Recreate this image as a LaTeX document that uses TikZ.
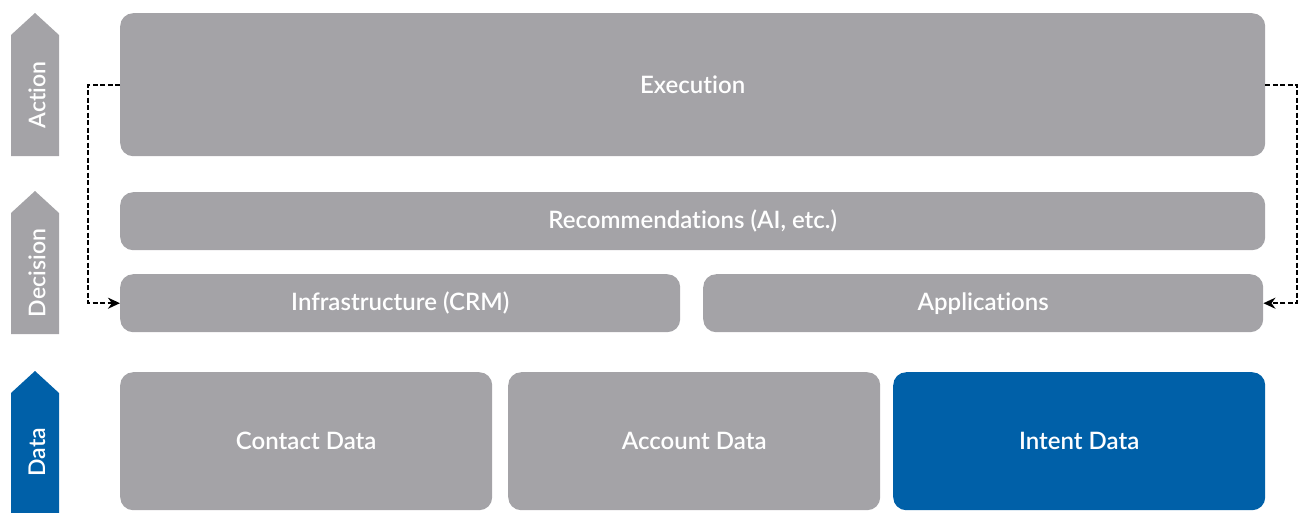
\documentclass[tikz,border=0pt]{standalone}
\usepackage{fontspec}
\setmainfont{Lato Semibold}[Ligatures=NoCommon]
\usetikzlibrary{arrows.meta}

\definecolor{layergray}{HTML}{A4A3A7}
\definecolor{layerblue}{HTML}{0060A8}

\begin{document}
\begin{tikzpicture}[
    x=1pt, y=-1pt,
    base/.style = {rectangle, rounded corners=13pt, fill=layergray,
        text=white, inner sep=0pt, anchor=north west,
        font=\fontsize{24}{28}\selectfont},
    layer/.style = {base, minimum height=58pt},
    datablock/.style = {base, minimum width=372pt, minimum height=138pt},
    tag/.style = {text=white, rotate=90, font=\fontsize{23}{27}\selectfont},
    link/.style = {line width=1.9pt, dash pattern=on 5pt off 2.5pt,
        -{Stealth[length=12pt, width=11pt]}}
]
  \useasboundingbox (0,0) rectangle (1305,512);

  % side arrows
  \fill[layergray] (11,156) -- (11,35) -- (35,13) -- (59,35) -- (59,156) -- cycle;
  \fill[layergray] (11,334) -- (11,213) -- (35,191) -- (59,213) -- (59,334) -- cycle;
  \fill[layerblue] (11,520) -- (11,393) -- (35,371) -- (59,393) -- (59,520) -- cycle;
  \node (action)   [tag] at (37,95)  {Action};
  \node (decision) [tag] at (37,273) {Decision};
  \node (data)     [tag] at (37,452) {Data};

  % layers
  \node (exec)  [base, minimum width=1145pt, minimum height=143pt] at (120,13) {Execution};
  \node (recs)  [layer, minimum width=1145pt] at (120,192) {Recommendations (AI, etc.)};
  \node (infra) [layer, minimum width=560pt] at (120,274) {Infrastructure (CRM)};
  \node (apps)  [layer, minimum width=560pt] at (703,274) {Applications};

  \node (contact) [datablock] at (120,372) {Contact Data};
  \node (account) [datablock] at (508,372) {Account Data};
  \node (intent)  [datablock, fill=layerblue] at (893,372) {Intent Data};

  \draw[link] (exec.west) -- ++(-32,0) |- (infra.west);
  \draw[link] (exec.east) -- ++(32,0) |- (apps.east);

\end{tikzpicture}
\end{document}
